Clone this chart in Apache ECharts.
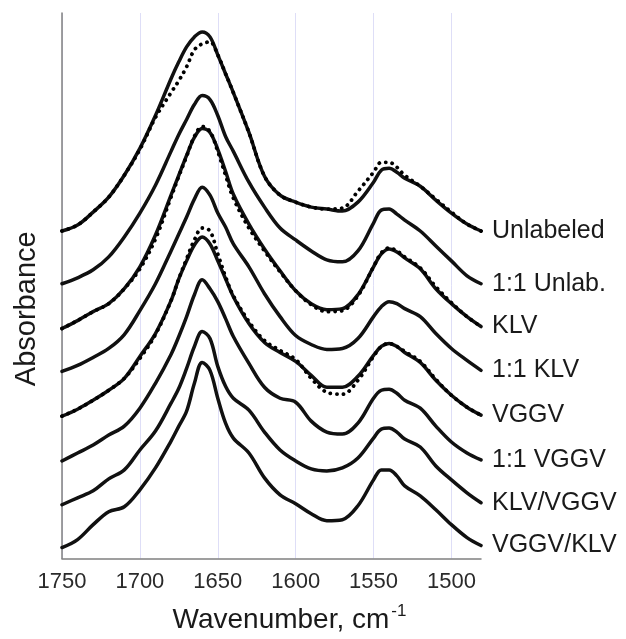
<!DOCTYPE html>
<html>
<head>
<meta charset="utf-8">
<script src="https://cdn.jsdelivr.net/npm/echarts@6/dist/echarts.min.js"></script>
<style>
html,body{margin:0;padding:0;background:#fff;}
#main{width:626px;height:639px;}
</style>
</head>
<body>
<div id="main"></div>
<script>
// wavenumbers (cm-1), descending
var wavenumbers = [1750,1740,1730,1720,1710,1700,1690,1680,1675,1670,1665,1660,1655,1650,1645,1640,1630,1620,1610,1600,1590,1580,1570,1560,1550,1545,1540,1535,1530,1520,1510,1500,1490,1481];

// stacked spectra (absorbance + offset, arbitrary units)
var unlabeled = [3.29,3.35,3.48,3.63,3.85,4.12,4.45,4.82,4.99,5.14,5.24,5.29,5.24,5.06,4.87,4.68,4.28,3.84,3.65,3.58,3.53,3.51,3.49,3.58,3.78,3.90,3.92,3.88,3.82,3.74,3.60,3.47,3.36,3.29];
var unlabeledDot = [3.29,3.35,3.48,3.63,3.85,4.11,4.43,4.68,4.80,4.94,5.11,5.17,5.19,5.06,4.87,4.68,4.28,3.84,3.65,3.58,3.53,3.51,3.52,3.69,3.88,3.98,3.98,3.93,3.85,3.74,3.61,3.48,3.36,3.29];
var unlab11 = [2.76,2.82,2.90,3.03,3.23,3.47,3.75,4.09,4.26,4.41,4.56,4.65,4.61,4.45,4.24,4.09,3.78,3.53,3.32,3.20,3.09,3.00,2.98,3.09,3.37,3.50,3.51,3.46,3.40,3.29,3.14,2.99,2.84,2.76];
var klv = [2.31,2.39,2.48,2.56,2.71,2.93,3.25,3.65,3.85,4.05,4.23,4.32,4.28,4.11,3.89,3.66,3.36,3.11,2.89,2.69,2.56,2.50,2.51,2.65,2.93,3.06,3.11,3.08,3.02,2.91,2.71,2.56,2.43,2.33];
var klvDot = [2.31,2.39,2.48,2.56,2.71,2.91,3.21,3.63,3.84,4.04,4.24,4.34,4.29,4.09,3.85,3.62,3.32,3.09,2.88,2.69,2.55,2.48,2.49,2.64,2.93,3.07,3.12,3.09,3.03,2.92,2.73,2.57,2.43,2.33];
var klv11 = [1.88,1.94,2.02,2.11,2.25,2.49,2.76,3.09,3.26,3.43,3.61,3.73,3.65,3.47,3.33,3.16,2.93,2.66,2.43,2.24,2.15,2.10,2.11,2.21,2.43,2.53,2.58,2.56,2.51,2.43,2.26,2.11,1.99,1.89];
var vggv = [1.43,1.50,1.59,1.69,1.81,2.03,2.26,2.59,2.81,2.99,3.15,3.23,3.16,2.99,2.81,2.63,2.36,2.17,2.07,1.98,1.84,1.72,1.72,1.83,2.04,2.13,2.16,2.13,2.07,1.97,1.79,1.64,1.52,1.44];
var vggvDot = [1.43,1.50,1.59,1.69,1.81,2.01,2.25,2.59,2.81,3.01,3.20,3.32,3.29,3.06,2.83,2.64,2.38,2.19,2.09,2.00,1.81,1.67,1.65,1.79,2.03,2.13,2.16,2.13,2.08,1.98,1.80,1.64,1.52,1.44];
var vggv11 = [0.98,1.06,1.14,1.24,1.33,1.51,1.76,2.05,2.23,2.43,2.65,2.80,2.71,2.58,2.41,2.23,1.96,1.72,1.61,1.57,1.38,1.27,1.25,1.36,1.61,1.69,1.70,1.66,1.59,1.51,1.33,1.17,1.06,0.99];
var klvVggv = [0.54,0.61,0.68,0.80,0.89,1.09,1.28,1.56,1.71,1.91,2.13,2.28,2.21,1.93,1.73,1.61,1.49,1.27,1.09,0.98,0.90,0.88,0.91,1.01,1.21,1.30,1.31,1.27,1.20,1.12,0.93,0.79,0.66,0.56];
var vggvKlv = [0.11,0.19,0.34,0.47,0.52,0.69,0.91,1.18,1.33,1.48,1.76,1.97,1.89,1.61,1.36,1.21,1.06,0.81,0.64,0.55,0.45,0.38,0.39,0.53,0.79,0.89,0.89,0.83,0.73,0.63,0.49,0.34,0.21,0.13];

var solidNames = ['Unlabeled','1:1 Unlab.','KLV','1:1 KLV','VGGV','1:1 VGGV','KLV/VGGV','VGGV/KLV'];
var solidData = [unlabeled, unlab11, klv, klv11, vggv, vggv11, klvVggv, vggvKlv];
var dotNames = ['Unlabeled (dotted)','KLV (dotted)','VGGV (dotted)'];
var dotData = [unlabeledDot, klvDot, vggvDot];

var FONT = '"Liberation Sans", Arial, sans-serif';

// axis runs right-to-left, so x is stored as -wavenumber
function pairs(vals){
    var out = [];
    for(var i=0;i<wavenumbers.length;i++){
        out.push([-wavenumbers[i], vals[i]]);
    }
    return out;
}

var series = [];
for(var i=0;i<dotData.length;i++){
    series.push({
        name: dotNames[i],
        type: 'line',
        data: pairs(dotData[i]),
        smooth: 0.35,
        showSymbol: false,
        silent: true,
        z: 3,
        lineStyle: {color:'#000', width:3.8, type:[0.1,6.5], cap:'round'}
    });
}
for(var i=0;i<solidData.length;i++){
    series.push({
        name: solidNames[i],
        type: 'line',
        data: pairs(solidData[i]),
        smooth: 0.35,
        showSymbol: false,
        silent: true,
        z: 2,
        lineStyle: {color:'#111', width:3.5, cap:'round', join:'round'},
        endLabel: {
            show: true,
            formatter: '{a}',
            distance: 11,
            color: '#1a1a1a',
            fontSize: 25,
            fontFamily: FONT
        }
    });
}

var myChart = echarts.init(document.getElementById('main'));
var option = {
    backgroundColor: '#fff',
    animation: false,
    grid: {left:62, right:145, top:13, bottom:78},
    xAxis: {
        type: 'value',
        min: -1750,
        max: -1481,
        interval: 50,
        name: 'Wavenumber, cm{sup|-1}',
        nameLocation: 'middle',
        nameGap: 44,
        nameTextStyle: {
            fontSize: 28, color:'#1a1a1a', fontFamily: FONT,
            padding: [0,0,0,36],
            rich: {sup: {fontSize: 17, verticalAlign:'top', padding:[0,0,18,2], color:'#1a1a1a', fontFamily: FONT}}
        },
        axisLine: {show:true, lineStyle:{color:'#808080', width:1.5}},
        axisTick: {show:false},
        axisLabel: {
            fontSize: 22, color:'#2a2a2a', fontFamily: FONT, margin: 12,
            showMaxLabel: false,
            formatter: function(v){ return String(-v); }
        },
        splitLine: {show:true, showMaxLine:false, lineStyle:{color:'#dedef7', width:1}}
    },
    yAxis: {
        type: 'value',
        min: 0,
        max: 5.48,
        name: 'Absorbance',
        nameLocation: 'middle',
        nameGap: 21,
        nameTextStyle: {fontSize: 29, color:'#1a1a1a', fontFamily: FONT, padding:[0,46,0,0]},
        axisLine: {show:true, lineStyle:{color:'#808080', width:1.5}},
        axisTick: {show:false},
        axisLabel: {show:false},
        splitLine: {show:false}
    },
    series: series
};
myChart.setOption(option);
</script>
</body>
</html>
